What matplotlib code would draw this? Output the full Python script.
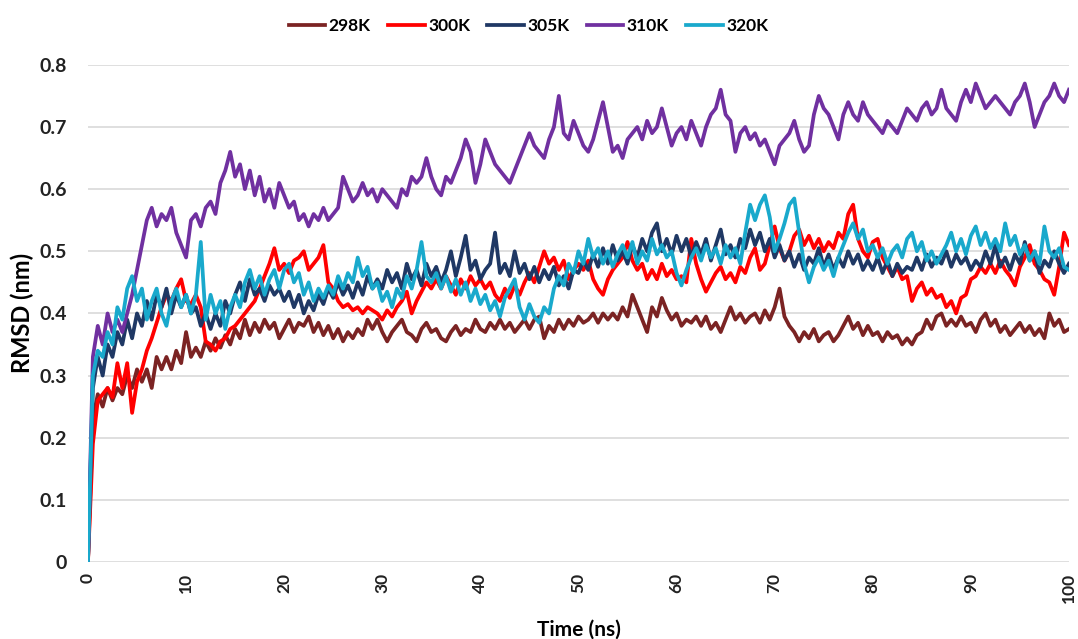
import numpy as np
import matplotlib.pyplot as plt

# time axis (ns), one frame every 0.5 ns
time_ns = np.arange(0, 100.01, 0.5)

rmsd_298 = [
    0.00, 0.23, 0.27, 0.25, 0.28, 0.26, 0.28, 0.27, 0.30, 0.28, 0.31, 0.29, 0.31, 0.28, 0.33, 0.31, 0.33, 0.31, 0.34, 0.32,
    0.37, 0.33, 0.345, 0.33, 0.355, 0.34, 0.36, 0.345, 0.365, 0.35, 0.375, 0.36, 0.39, 0.365, 0.385, 0.37, 0.39, 0.375, 0.385, 0.36,
    0.375, 0.39, 0.37, 0.385, 0.38, 0.395, 0.37, 0.385, 0.365, 0.38, 0.36, 0.375, 0.355, 0.37, 0.36, 0.375, 0.365, 0.39, 0.375, 0.39,
    0.37, 0.355, 0.37, 0.38, 0.39, 0.37, 0.365, 0.355, 0.375, 0.385, 0.37, 0.375, 0.36, 0.355, 0.37, 0.38, 0.365, 0.375, 0.37, 0.39,
    0.375, 0.37, 0.385, 0.375, 0.39, 0.375, 0.385, 0.37, 0.38, 0.39, 0.375, 0.39, 0.395, 0.36, 0.38, 0.37, 0.39, 0.375, 0.39, 0.38,
    0.395, 0.385, 0.39, 0.40, 0.385, 0.40, 0.39, 0.40, 0.39, 0.41, 0.395, 0.43, 0.41, 0.39, 0.37, 0.41, 0.395, 0.425, 0.405, 0.39,
    0.40, 0.38, 0.39, 0.385, 0.395, 0.38, 0.395, 0.375, 0.385, 0.37, 0.39, 0.41, 0.39, 0.40, 0.385, 0.395, 0.40, 0.385, 0.405, 0.39,
    0.41, 0.44, 0.395, 0.38, 0.37, 0.355, 0.37, 0.36, 0.375, 0.355, 0.365, 0.37, 0.355, 0.365, 0.38, 0.395, 0.375, 0.385, 0.365, 0.38,
    0.365, 0.37, 0.355, 0.37, 0.36, 0.365, 0.35, 0.36, 0.35, 0.365, 0.37, 0.39, 0.375, 0.395, 0.40, 0.38, 0.39, 0.38, 0.395, 0.38,
    0.385, 0.37, 0.39, 0.40, 0.38, 0.39, 0.37, 0.38, 0.365, 0.375, 0.385, 0.37, 0.38, 0.365, 0.375, 0.36, 0.40, 0.38, 0.39, 0.37,
    0.375,
]

rmsd_300 = [
    0.00, 0.19, 0.26, 0.27, 0.28, 0.265, 0.32, 0.28, 0.32, 0.24, 0.29, 0.31, 0.34, 0.36, 0.385, 0.41, 0.43, 0.42, 0.44, 0.455,
    0.42, 0.415, 0.43, 0.41, 0.355, 0.35, 0.34, 0.355, 0.36, 0.375, 0.38, 0.39, 0.40, 0.41, 0.42, 0.44, 0.46, 0.48, 0.505, 0.47,
    0.48, 0.465, 0.485, 0.49, 0.50, 0.47, 0.48, 0.49, 0.51, 0.45, 0.44, 0.42, 0.41, 0.415, 0.405, 0.41, 0.40, 0.41, 0.405, 0.40,
    0.39, 0.405, 0.395, 0.41, 0.42, 0.435, 0.40, 0.42, 0.435, 0.45, 0.44, 0.455, 0.44, 0.46, 0.445, 0.43, 0.455, 0.44, 0.46, 0.445,
    0.455, 0.44, 0.45, 0.43, 0.42, 0.44, 0.425, 0.445, 0.43, 0.45, 0.465, 0.45, 0.475, 0.50, 0.48, 0.49, 0.47, 0.485, 0.455, 0.47,
    0.48, 0.47, 0.485, 0.455, 0.44, 0.43, 0.455, 0.47, 0.48, 0.49, 0.515, 0.485, 0.47, 0.48, 0.455, 0.47, 0.455, 0.48, 0.46, 0.47,
    0.455, 0.46, 0.45, 0.52, 0.48, 0.455, 0.435, 0.45, 0.465, 0.475, 0.455, 0.465, 0.45, 0.475, 0.465, 0.49, 0.505, 0.47, 0.48, 0.51,
    0.54, 0.505, 0.485, 0.50, 0.525, 0.535, 0.51, 0.525, 0.505, 0.52, 0.50, 0.515, 0.505, 0.53, 0.52, 0.56, 0.575, 0.52, 0.50, 0.49,
    0.515, 0.52, 0.49, 0.475, 0.46, 0.475, 0.455, 0.46, 0.42, 0.44, 0.45, 0.43, 0.44, 0.425, 0.43, 0.41, 0.42, 0.40, 0.425, 0.43,
    0.455, 0.46, 0.475, 0.465, 0.48, 0.465, 0.485, 0.47, 0.46, 0.445, 0.475, 0.49, 0.51, 0.48, 0.47, 0.455, 0.45, 0.43, 0.475, 0.53,
    0.51,
]

rmsd_305 = [
    0.00, 0.28, 0.33, 0.30, 0.35, 0.33, 0.37, 0.35, 0.39, 0.36, 0.40, 0.38, 0.42, 0.39, 0.43, 0.41, 0.44, 0.40, 0.43, 0.41,
    0.43, 0.40, 0.41, 0.38, 0.40, 0.375, 0.40, 0.38, 0.42, 0.40, 0.43, 0.45, 0.42, 0.455, 0.43, 0.44, 0.42, 0.445, 0.43, 0.44,
    0.42, 0.435, 0.41, 0.43, 0.40, 0.42, 0.405, 0.43, 0.415, 0.44, 0.425, 0.45, 0.43, 0.445, 0.425, 0.45, 0.43, 0.46, 0.44, 0.455,
    0.44, 0.47, 0.45, 0.465, 0.44, 0.48, 0.455, 0.47, 0.445, 0.48, 0.46, 0.475, 0.45, 0.47, 0.50, 0.46, 0.49, 0.525, 0.47, 0.485,
    0.455, 0.47, 0.48, 0.53, 0.465, 0.48, 0.46, 0.50, 0.465, 0.48, 0.455, 0.475, 0.45, 0.47, 0.455, 0.475, 0.445, 0.46, 0.44, 0.47,
    0.465, 0.485, 0.47, 0.495, 0.475, 0.505, 0.48, 0.51, 0.485, 0.50, 0.48, 0.51, 0.49, 0.52, 0.50, 0.53, 0.545, 0.50, 0.52, 0.495,
    0.525, 0.50, 0.52, 0.49, 0.515, 0.495, 0.52, 0.485, 0.51, 0.535, 0.495, 0.51, 0.49, 0.52, 0.505, 0.535, 0.51, 0.53, 0.50, 0.52,
    0.49, 0.51, 0.485, 0.50, 0.475, 0.495, 0.47, 0.49, 0.48, 0.505, 0.475, 0.495, 0.47, 0.49, 0.475, 0.50, 0.48, 0.495, 0.47, 0.485,
    0.47, 0.49, 0.465, 0.485, 0.46, 0.48, 0.465, 0.475, 0.47, 0.49, 0.47, 0.495, 0.475, 0.49, 0.48, 0.50, 0.475, 0.495, 0.48, 0.49,
    0.47, 0.485, 0.475, 0.50, 0.48, 0.51, 0.475, 0.49, 0.47, 0.495, 0.48, 0.515, 0.485, 0.50, 0.465, 0.485, 0.475, 0.50, 0.48, 0.465,
    0.48,
]

rmsd_310 = [
    0.00, 0.33, 0.38, 0.35, 0.40, 0.37, 0.39, 0.37, 0.40, 0.43, 0.47, 0.51, 0.55, 0.57, 0.54, 0.56, 0.55, 0.57, 0.53, 0.51,
    0.49, 0.55, 0.56, 0.54, 0.57, 0.58, 0.56, 0.61, 0.63, 0.66, 0.62, 0.64, 0.60, 0.63, 0.59, 0.62, 0.58, 0.60, 0.57, 0.61,
    0.59, 0.57, 0.58, 0.55, 0.56, 0.54, 0.56, 0.55, 0.57, 0.55, 0.56, 0.57, 0.62, 0.60, 0.58, 0.59, 0.61, 0.59, 0.60, 0.58,
    0.60, 0.59, 0.58, 0.57, 0.60, 0.59, 0.62, 0.61, 0.62, 0.65, 0.62, 0.60, 0.59, 0.62, 0.61, 0.63, 0.65, 0.68, 0.66, 0.61,
    0.64, 0.68, 0.66, 0.64, 0.63, 0.62, 0.61, 0.63, 0.65, 0.67, 0.69, 0.67, 0.66, 0.65, 0.68, 0.70, 0.75, 0.69, 0.68, 0.71,
    0.69, 0.67, 0.66, 0.68, 0.71, 0.74, 0.70, 0.66, 0.67, 0.65, 0.68, 0.69, 0.70, 0.68, 0.71, 0.69, 0.70, 0.73, 0.70, 0.67,
    0.69, 0.70, 0.68, 0.71, 0.69, 0.67, 0.70, 0.72, 0.73, 0.76, 0.72, 0.71, 0.66, 0.69, 0.70, 0.68, 0.69, 0.67, 0.68, 0.66,
    0.64, 0.67, 0.68, 0.69, 0.71, 0.68, 0.66, 0.67, 0.72, 0.75, 0.73, 0.72, 0.70, 0.68, 0.72, 0.74, 0.72, 0.71, 0.74, 0.72,
    0.71, 0.70, 0.69, 0.71, 0.70, 0.69, 0.71, 0.73, 0.72, 0.71, 0.73, 0.74, 0.72, 0.73, 0.76, 0.73, 0.72, 0.71, 0.74, 0.76,
    0.74, 0.77, 0.75, 0.73, 0.74, 0.75, 0.74, 0.73, 0.72, 0.74, 0.75, 0.77, 0.74, 0.70, 0.72, 0.74, 0.75, 0.77, 0.75, 0.74,
    0.76,
]

rmsd_320 = [
    0.00, 0.30, 0.34, 0.33, 0.37, 0.35, 0.41, 0.39, 0.44, 0.46, 0.42, 0.44, 0.39, 0.42, 0.44, 0.40, 0.38, 0.42, 0.44, 0.41,
    0.43, 0.40, 0.43, 0.515, 0.39, 0.43, 0.40, 0.42, 0.375, 0.41, 0.43, 0.41, 0.45, 0.47, 0.44, 0.46, 0.43, 0.455, 0.47, 0.44,
    0.47, 0.48, 0.45, 0.465, 0.43, 0.45, 0.42, 0.44, 0.425, 0.445, 0.43, 0.46, 0.44, 0.465, 0.45, 0.49, 0.46, 0.475, 0.44, 0.45,
    0.42, 0.435, 0.41, 0.44, 0.425, 0.46, 0.44, 0.47, 0.515, 0.46, 0.45, 0.465, 0.44, 0.46, 0.435, 0.455, 0.43, 0.45, 0.42, 0.44,
    0.415, 0.43, 0.405, 0.42, 0.395, 0.425, 0.44, 0.455, 0.41, 0.39, 0.415, 0.395, 0.385, 0.41, 0.40, 0.44, 0.46, 0.445, 0.48, 0.465,
    0.50, 0.48, 0.52, 0.49, 0.505, 0.48, 0.50, 0.475, 0.495, 0.51, 0.49, 0.515, 0.48, 0.50, 0.485, 0.52, 0.495, 0.51, 0.49, 0.50,
    0.465, 0.445, 0.47, 0.49, 0.505, 0.485, 0.51, 0.49, 0.505, 0.48, 0.51, 0.49, 0.505, 0.48, 0.53, 0.575, 0.55, 0.575, 0.59, 0.555,
    0.50, 0.52, 0.545, 0.575, 0.585, 0.53, 0.48, 0.45, 0.475, 0.49, 0.47, 0.485, 0.46, 0.49, 0.51, 0.53, 0.545, 0.52, 0.535, 0.50,
    0.51, 0.49, 0.505, 0.48, 0.50, 0.51, 0.49, 0.52, 0.53, 0.50, 0.515, 0.485, 0.50, 0.48, 0.495, 0.51, 0.53, 0.50, 0.52, 0.495,
    0.525, 0.54, 0.51, 0.53, 0.505, 0.52, 0.50, 0.545, 0.51, 0.525, 0.495, 0.51, 0.485, 0.50, 0.48, 0.54, 0.50, 0.49, 0.505, 0.475,
    0.47,
]

labels = ["298K", "300K", "305K", "310K", "320K"]
colors = ["#7B2323", "#FF0000", "#1F3864", "#7030A0", "#19A9CC"]
series = [rmsd_298, rmsd_300, rmsd_305, rmsd_310, rmsd_320]

plt.rcParams['font.family'] = ['Lato', 'DejaVu Sans']

fig = plt.figure(figsize=(10.78, 6.39), dpi=100, facecolor='w')
ax = fig.add_axes([0.0816, 0.1205, 0.910, 0.778])

for vals, lab, col in zip(series, labels, colors):
    ax.plot(time_ns, vals, color=col, linewidth=2.7, label=lab)

ax.set_xlim(0, 100)
ax.set_ylim(0, 0.8)
ax.set_xticks(range(0, 101, 10))
ax.set_yticks([0, 0.1, 0.2, 0.3, 0.4, 0.5, 0.6, 0.7, 0.8])
ax.set_yticklabels(["0", "0.1", "0.2", "0.3", "0.4", "0.5", "0.6", "0.7", "0.8"])
ax.tick_params(axis='x', labelrotation=90, length=0, labelsize=12.5, pad=8)
ax.tick_params(axis='y', length=0, labelsize=14, pad=15)
for lbl in ax.get_xticklabels() + ax.get_yticklabels():
    lbl.set_fontweight('bold')
    lbl.set_color('#222222')

ax.grid(axis='y', color='#D9D9D9', linewidth=1.2)
ax.set_axisbelow(True)
for s in ax.spines.values():
    s.set_visible(False)

ax.set_xlabel("Time (ns)", fontsize=15, fontweight='bold', labelpad=12)
ax.set_ylabel("RMSD (nm)", fontsize=17, fontweight='bold', labelpad=4)

ax.legend(loc='lower center', bbox_to_anchor=(0.449, 1.03), ncol=5, frameon=False,
          prop={'weight': 'bold', 'size': 12.5}, handlelength=2.1, handletextpad=0.2,
          columnspacing=1.0)

plt.savefig("out.png", dpi=100)
